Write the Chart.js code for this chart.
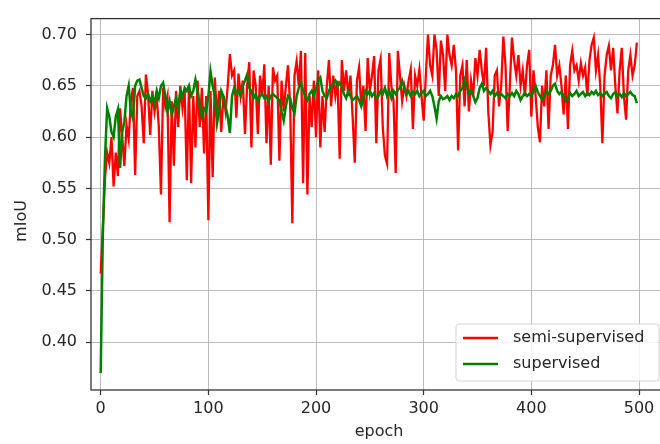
<!DOCTYPE html>
<html>
<head>
<meta charset="utf-8">
<script src="https://cdn.jsdelivr.net/npm/chart.js@4.4.1/dist/chart.umd.min.js"></script>
<style>
  html, body { margin: 0; padding: 0; background: #fff; overflow: hidden; }
  #wrap { width: 660px; height: 444px; overflow: hidden; }
</style>
</head>
<body>
<div id="wrap"><canvas id="c" width="680" height="444"></canvas></div>
<script>
const epochStep = 2;
const semiSupervised = [
  0.467,0.512,0.560,0.585,0.575,0.600,0.552,0.585,0.562,0.628,
  0.600,0.572,0.612,0.598,0.635,0.648,0.563,0.640,0.645,0.630,
  0.594,0.661,0.642,0.602,0.645,0.625,0.640,0.610,0.544,0.648,
  0.630,0.640,0.517,0.635,0.572,0.645,0.610,0.650,0.628,0.645,
  0.558,0.650,0.555,0.640,0.590,0.655,0.610,0.648,0.584,0.640,
  0.519,0.645,0.561,0.658,0.620,0.645,0.605,0.640,0.625,0.650,
  0.681,0.660,0.665,0.619,0.662,0.640,0.655,0.603,0.650,0.673,
  0.590,0.665,0.650,0.603,0.660,0.640,0.671,0.594,0.650,0.573,
  0.668,0.655,0.660,0.577,0.655,0.625,0.650,0.670,0.630,0.516,
  0.660,0.674,0.650,0.684,0.555,0.682,0.544,0.640,0.610,0.655,
  0.600,0.665,0.590,0.640,0.605,0.650,0.675,0.630,0.660,0.640,
  0.655,0.579,0.675,0.645,0.665,0.640,0.660,0.620,0.575,0.655,
  0.668,0.630,0.650,0.606,0.677,0.645,0.660,0.679,0.594,0.665,
  0.676,0.610,0.582,0.574,0.682,0.650,0.635,0.565,0.684,0.660,
  0.635,0.650,0.640,0.655,0.666,0.608,0.660,0.650,0.666,0.640,
  0.616,0.660,0.700,0.670,0.660,0.700,0.685,0.640,0.694,0.680,
  0.645,0.700,0.680,0.670,0.690,0.665,0.587,0.660,0.670,0.630,
  0.675,0.625,0.655,0.640,0.677,0.660,0.685,0.665,0.650,0.687,
  0.625,0.592,0.605,0.660,0.665,0.630,0.650,0.698,0.670,0.606,
  0.650,0.697,0.675,0.660,0.680,0.650,0.665,0.640,0.670,0.685,
  0.620,0.665,0.640,0.610,0.595,0.650,0.630,0.665,0.608,0.660,
  0.670,0.690,0.660,0.670,0.650,0.622,0.660,0.608,0.670,0.684,
  0.665,0.670,0.655,0.672,0.660,0.668,0.640,0.675,0.690,0.697,
  0.665,0.680,0.650,0.594,0.660,0.680,0.689,0.665,0.687,0.650,
  0.623,0.665,0.687,0.640,0.617,0.665,0.680,0.660,0.670,0.692
];
const supervised = [
  0.370,0.505,0.580,0.628,0.620,0.605,0.600,0.620,0.627,0.570,
  0.605,0.615,0.640,0.650,0.625,0.618,0.650,0.655,0.656,0.648,
  0.640,0.638,0.642,0.635,0.640,0.632,0.645,0.638,0.650,0.653,
  0.640,0.625,0.635,0.622,0.630,0.638,0.628,0.645,0.640,0.648,
  0.645,0.650,0.640,0.645,0.656,0.645,0.630,0.620,0.628,0.625,
  0.640,0.664,0.650,0.640,0.613,0.625,0.645,0.640,0.630,0.620,
  0.604,0.640,0.648,0.642,0.645,0.640,0.650,0.655,0.661,0.648,
  0.645,0.638,0.642,0.635,0.640,0.642,0.638,0.640,0.635,0.640,
  0.642,0.640,0.638,0.636,0.625,0.616,0.630,0.640,0.638,0.628,
  0.623,0.640,0.648,0.653,0.645,0.640,0.636,0.642,0.645,0.640,
  0.648,0.655,0.658,0.645,0.640,0.638,0.645,0.650,0.652,0.655,
  0.650,0.653,0.648,0.642,0.638,0.645,0.640,0.636,0.638,0.640,
  0.636,0.630,0.638,0.645,0.642,0.645,0.640,0.643,0.638,0.640,
  0.645,0.642,0.648,0.640,0.645,0.638,0.645,0.642,0.646,0.648,
  0.655,0.648,0.642,0.645,0.640,0.644,0.642,0.645,0.640,0.643,
  0.645,0.640,0.642,0.645,0.640,0.630,0.618,0.635,0.640,0.637,
  0.638,0.640,0.636,0.640,0.638,0.642,0.640,0.645,0.648,0.656,
  0.650,0.642,0.645,0.640,0.634,0.638,0.648,0.652,0.645,0.648,
  0.645,0.642,0.645,0.640,0.643,0.640,0.642,0.640,0.638,0.642,
  0.640,0.643,0.640,0.645,0.642,0.636,0.640,0.643,0.640,0.642,
  0.640,0.645,0.650,0.644,0.640,0.637,0.640,0.645,0.642,0.645,
  0.650,0.652,0.645,0.642,0.644,0.640,0.635,0.638,0.643,0.640,
  0.642,0.645,0.640,0.642,0.644,0.640,0.643,0.641,0.644,0.642,
  0.645,0.641,0.643,0.640,0.642,0.644,0.640,0.638,0.642,0.644,
  0.640,0.642,0.639,0.643,0.640,0.642,0.644,0.641,0.640,0.633
];
const xTicks = [0, 100, 200, 300, 400, 500];
const yTicks = [0.40, 0.45, 0.50, 0.55, 0.60, 0.65, 0.70];
const seriesNames = ['semi-supervised', 'supervised'];

const toPoints = arr => arr.map((v, i) => ({ x: i * epochStep, y: v }));
const FONT = 'DejaVu Sans';
const INK = '#262626';

// axes box (matplotlib style frame)
const frame = {
  id: 'frame',
  afterDraw(chart) {
    const { ctx, chartArea: a } = chart;
    ctx.save();
    ctx.strokeStyle = '#333';
    ctx.lineWidth = 1.3;
    ctx.strokeRect(a.left, a.top, a.right - a.left, a.bottom - a.top);
    ctx.restore();
  }
};

// legend inside the axes, lower right
const innerLegend = {
  id: 'innerLegend',
  afterDatasetsDraw(chart) {
    const { ctx, chartArea: a } = chart;
    const ds = chart.data.datasets;
    const w = 203, h = 57;
    const x = a.right - 211, y = a.bottom - 66;
    ctx.save();
    ctx.beginPath();
    ctx.roundRect(x, y, w, h, 3);
    ctx.fillStyle = 'rgba(255,255,255,0.85)';
    ctx.fill();
    ctx.strokeStyle = '#d4d4d4';
    ctx.lineWidth = 1;
    ctx.stroke();
    ctx.font = '16px "' + FONT + '"';
    ctx.textBaseline = 'middle';
    ds.forEach((d, i) => {
      const ly = y + 14 + i * 26;
      ctx.beginPath();
      ctx.moveTo(x + 7, ly);
      ctx.lineTo(x + 42, ly);
      ctx.strokeStyle = d.borderColor;
      ctx.lineWidth = 2.3;
      ctx.stroke();
      ctx.fillStyle = INK;
      ctx.fillText(d.label, x + 57, ly);
    });
    ctx.restore();
  }
};

// y axis label
const yLabel = {
  id: 'yLabel',
  afterDraw(chart) {
    const { ctx } = chart;
    ctx.save();
    ctx.translate(22, 221);
    ctx.rotate(-Math.PI / 2);
    ctx.font = '16px "' + FONT + '"';
    ctx.fillStyle = INK;
    ctx.textAlign = 'center';
    ctx.textBaseline = 'middle';
    ctx.fillText('mIoU', 0, 0);
    ctx.restore();
  }
};

new Chart(document.getElementById('c'), {
  type: 'line',
  data: {
    datasets: [
      { label: seriesNames[0], data: toPoints(semiSupervised), borderColor: '#ff0000',
        borderWidth: 2.3, pointRadius: 0, tension: 0, order: 1 },
      { label: seriesNames[1], data: toPoints(supervised), borderColor: '#008000',
        borderWidth: 2.5, pointRadius: 0, tension: 0, order: 0 }
    ]
  },
  options: {
    responsive: false,
    animation: false,
    events: [],
    layout: { padding: { top: 12, right: 13, left: 0, bottom: 0 } },
    plugins: { legend: { display: false }, tooltip: { enabled: false } },
    scales: {
      x: {
        type: 'linear', min: -9, max: 526,
        afterBuildTicks: s => { s.ticks = xTicks.map(v => ({ value: v })); },
        afterFit: s => { s.height = 54; },
        grid: { color: 'rgba(176,176,176,0.85)', lineWidth: 1, tickLength: 5, tickColor: '#333', tickWidth: 1.2 },
        border: { display: false },
        ticks: { color: INK, font: { family: FONT, size: 16 }, padding: 4, maxRotation: 0 },
        title: { display: true, text: 'epoch', color: INK, font: { family: FONT, size: 16 }, padding: { top: 0, bottom: 3 } }
      },
      y: {
        type: 'linear', min: 0.3535, max: 0.7155,
        afterBuildTicks: s => { s.ticks = yTicks.map(v => ({ value: v })); },
        afterFit: s => { s.width = 91; },
        grid: { color: 'rgba(176,176,176,0.85)', lineWidth: 1, tickLength: 5, tickColor: '#333', tickWidth: 1.2 },
        border: { display: false },
        ticks: { color: INK, font: { family: FONT, size: 16 }, padding: 9, callback: v => v.toFixed(2) }
      }
    }
  },
  plugins: [frame, innerLegend, yLabel]
});
</script>
</body>
</html>
